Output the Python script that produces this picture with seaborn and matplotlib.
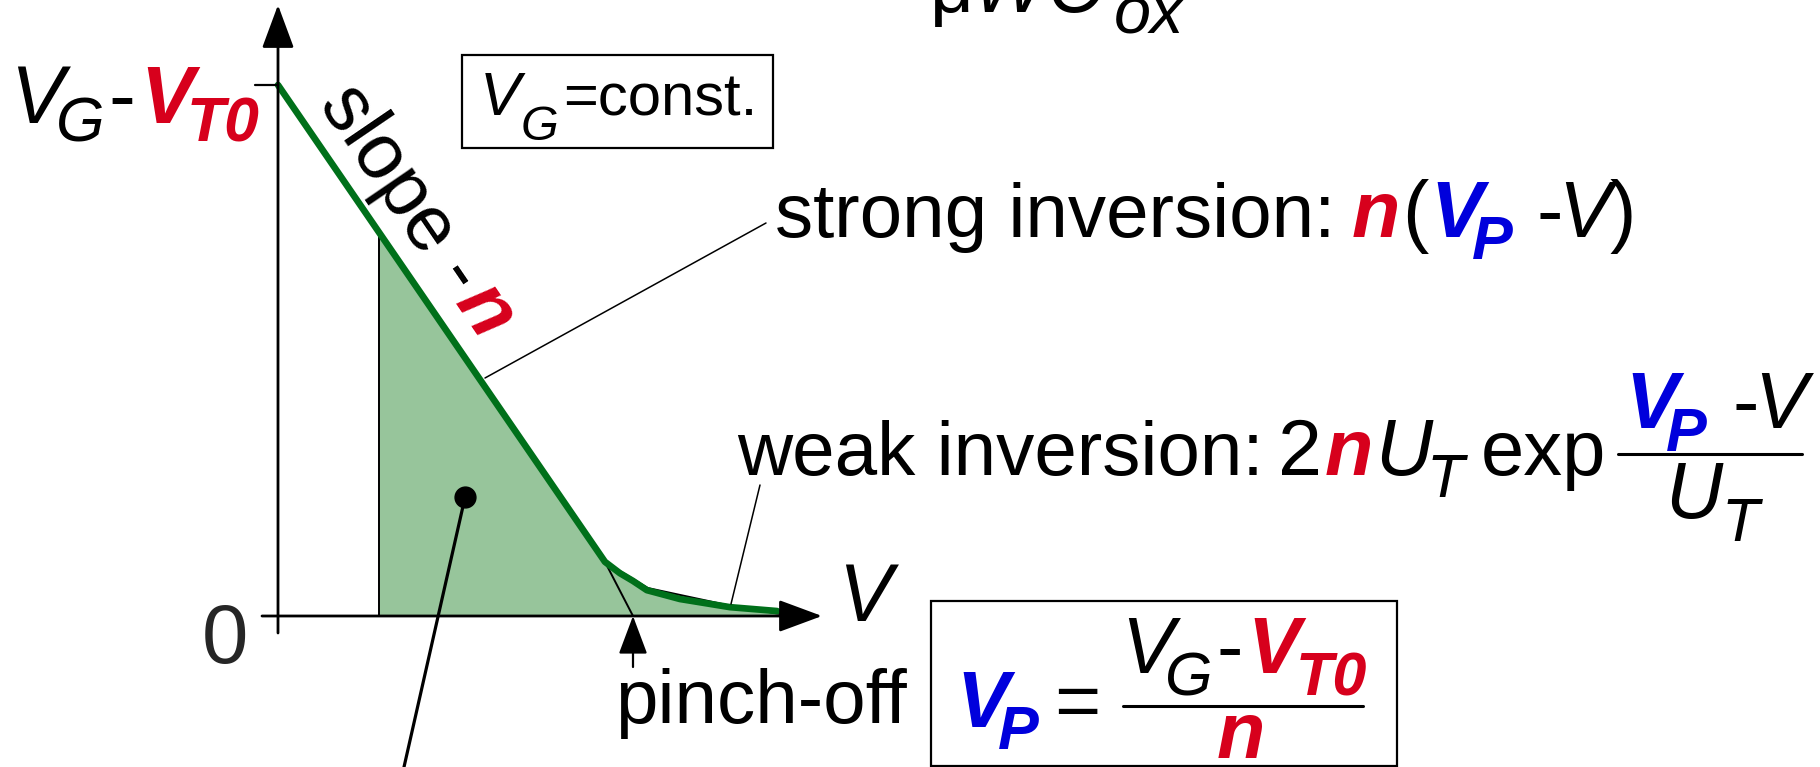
import math
import matplotlib
matplotlib.use("Agg")
import matplotlib.pyplot as plt
from matplotlib.patches import Rectangle, Polygon
import numpy as np
import pandas as pd
import seaborn as sns

# --- channel charge vs. channel voltage (normalised units, V_P = 1, n = 1.5) ---
v_curve = [0.0, 0.921, 0.963, 1.000, 1.039, 1.132, 1.273, 1.406]
q_curve = [1.5, 0.153, 0.121, 0.099, 0.073, 0.048, 0.025, 0.014]

# shaded area between the source end and the drain end of the channel
v_shade = [0.2845, 0.921, 1.042, 1.279, 1.414, 1.414, 0.2845]
q_shade = [1.084, 0.153, 0.079, 0.028, 0.006, 0.0, 0.0]

v_pinch = 1.0          # pinch-off voltage V_P
q_top = 1.5            # V_G - V_T0 on the vertical axis
v_dot, q_dot = 0.527, 0.336

y_tick_label = ["V", "G", "-", "V", "T0"]
x_tick_label = "0"

RED = "#d7001c"
BLUE = "#0000dc"
GREEN = "#00701a"
FILL = "#97c59b"
BLACK = "black"

MAIN = 57    # symbols
WORDS = 55   # running text
SUB = 44

sns.set_theme(style="white")
plt.rcParams["font.family"] = ["Liberation Sans", "DejaVu Sans"]

W, H = 1820, 767
fig = plt.figure(figsize=(W / 100, H / 100), dpi=100)
ax = fig.add_axes([0, 0, 1, 1])


def V(x):
    return (x - 278) / 355


def Q(y):
    return (616 - y) / 354


ax.set_xlim(V(0), V(W))
ax.set_ylim(Q(H), Q(0))
ax.axis("off")

# shaded region
ax.add_patch(Polygon(np.column_stack([v_shade, q_shade]), closed=True,
                     facecolor=FILL, edgecolor=BLACK, lw=1.4, zorder=1))

# linear extrapolation down to pinch-off
ax.plot([v_curve[1], v_pinch], [q_curve[1], 0.0], color=BLACK, lw=1.4, zorder=2)

# charge curve
df = pd.DataFrame({"V": v_curve, "q": q_curve})
sns.lineplot(data=df, x="V", y="q", ax=ax, color=GREEN, lw=4.8,
             estimator=None, sort=False, zorder=3)
ax.set_xlabel("")
ax.set_ylabel("")
ax.axis("off")

# axes with arrow heads
arrow = dict(arrowstyle="-|>,head_length=1.35,head_width=0.5", color=BLACK,
             lw=2.0, shrinkA=0, shrinkB=0, mutation_scale=20)
ax.annotate("", xy=(V(278), Q(5)), xytext=(V(278), Q(633)), arrowprops=arrow, zorder=4)
ax.annotate("", xy=(V(822), Q(616)), xytext=(V(262), Q(616)), arrowprops=arrow, zorder=4)
ax.plot([V(255), V(278)], [q_top, q_top], color=BLACK, lw=1.6, zorder=4)

# pinch-off marker arrow
parrow = dict(arrowstyle="-|>,head_length=1.2,head_width=0.45", color=BLACK,
              lw=1.6, shrinkA=0, shrinkB=0, mutation_scale=20)
ax.annotate("", xy=(v_pinch, 0.0), xytext=(v_pinch, Q(667)), arrowprops=parrow, zorder=4)

# leader lines
ax.plot([V(485), V(766)], [Q(378), Q(223)], color=BLACK, lw=1.1, zorder=4)
ax.plot([V(731), V(760)], [Q(604), Q(485)], color=BLACK, lw=1.1, zorder=4)
ax.plot([v_dot, V(404)], [q_dot, Q(767)], color=BLACK, lw=2.3, zorder=4)
ax.plot([v_dot], [q_dot], "o", color=BLACK, ms=15, zorder=5)


def put(s, x, y, size=MAIN, color=BLACK, bold=False, italic=False, **kw):
    return ax.text(V(x), Q(y), s, fontsize=size, color=color,
                   fontweight="bold" if bold else "normal",
                   fontstyle="italic" if italic else "normal",
                   ha="left", va="baseline", zorder=6, **kw)


# vertical axis label  V_G - V_T0
put(y_tick_label[0], 10, 123, 58, italic=True)
put(y_tick_label[1], 56, 141, 45, italic=True)
put(y_tick_label[2], 108, 123, 58)
put(y_tick_label[3], 140, 123, 58, RED, bold=True, italic=True)
put(y_tick_label[4], 187, 141, 45, RED, bold=True, italic=True)

ax.text(V(225), Q(663), x_tick_label, fontsize=60, ha="center", va="baseline")
put("V", 838, 621, 58, italic=True)

# slope annotation along the line
ang = math.degrees(math.atan2(-(562 - 85), 605 - 280))
d = np.array([math.cos(math.radians(-ang)), math.sin(math.radians(-ang))])
x0, y0 = 318, 104
put("slope -", x0, y0, WORDS + 1, rotation=ang, rotation_mode="anchor")
renderer = fig.canvas.get_renderer()
tmp = ax.text(0, 0, "slope -", fontsize=WORDS + 1)
w = tmp.get_window_extent(renderer).width
tmp.remove()
put("n", x0 + w * d[0] + 4, y0 + w * d[1] + 6, MAIN, RED, bold=True, italic=True,
    rotation=ang, rotation_mode="anchor")

# V_G = const. box
ax.add_patch(Rectangle((V(462), Q(148)), V(773) - V(462), Q(55) - Q(148),
                       fill=False, edgecolor=BLACK, lw=1.6, zorder=6))
put("V", 480, 115, 44, italic=True)
put("G", 521, 140, 35, italic=True)
put("=const.", 563, 115, 43)

# strong inversion
put("strong inversion:", 775, 237, WORDS)
put("n", 1352, 237, color=RED, bold=True, italic=True)
put("(", 1402, 237)
put("V", 1430, 237, color=BLUE, bold=True, italic=True)
put("P", 1472, 259, SUB, BLUE, bold=True, italic=True)
put("-", 1536, 237)
put("V", 1558, 237, italic=True)
put(")", 1609, 237)

# weak inversion
put("weak inversion:", 737, 475, WORDS)
put("2", 1278, 475)
put("n", 1325, 475, color=RED, bold=True, italic=True)
put("U", 1375, 475, italic=True)
put("T", 1427, 497, SUB, italic=True)
put("exp", 1481, 475, WORDS + 1)
put("V", 1625, 428, color=BLUE, bold=True, italic=True)
put("P", 1666, 451, SUB, BLUE, bold=True, italic=True)
put("-", 1732, 428)
put("V", 1754, 428, italic=True)
ax.plot([V(1618), V(1802)], [Q(454), Q(454)], color=BLACK, lw=2.2)
put("U", 1665, 518, italic=True)
put("T", 1721, 541, SUB, italic=True)

# pinch-off
put("pinch-off", 615, 723, WORDS)

# V_P = (V_G - V_T0) / n box
ax.add_patch(Rectangle((V(931), Q(766)), V(1397) - V(931), Q(601) - Q(766),
                       fill=False, edgecolor=BLACK, lw=1.6, zorder=6))
put("V", 956, 727, color=BLUE, bold=True, italic=True)
put("P", 998, 749, SUB, BLUE, bold=True, italic=True)
put("=", 1054, 727)
put("V", 1121, 673, italic=True)
put("G", 1165, 696, SUB, italic=True)
put("-", 1216, 673)
put("V", 1247, 673, color=RED, bold=True, italic=True)
put("T0", 1296, 696, SUB, RED, bold=True, italic=True)
ax.plot([V(1123), V(1363)], [Q(706), Q(706)], color=BLACK, lw=2.2)
put("n", 1217, 758, color=RED, bold=True, italic=True)

# denominator of the prefactor above
put("\u03bc", 930, 12, WORDS)
put("W", 972, 12, WORDS, italic=True)
put("C", 1048, 12, WORDS, italic=True)
put("ox", 1114, 34, 48, italic=True)

fig.savefig("out.png", dpi=100)
